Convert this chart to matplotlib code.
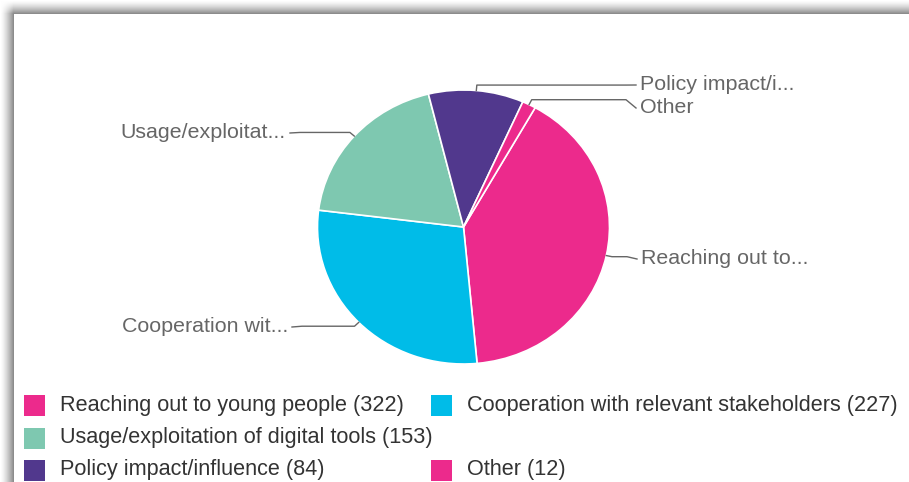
import numpy as np
import matplotlib
matplotlib.use("Agg")
import matplotlib.pyplot as plt
from matplotlib.patches import Rectangle

plt.rcParams['font.family'] = ['Liberation Sans', 'DejaVu Sans']

# Data
categories = ["Reaching out to young people", "Cooperation with relevant stakeholders",
              "Usage/exploitation of digital tools", "Policy impact/influence", "Other"]
short_labels = ["Reaching out to...", "Cooperation wit...", "Usage/exploitat...",
                "Policy impact/i...", "Other"]
counts = [322, 227, 153, 84, 12]
colors = ["#EC2A8C", "#00BCE8", "#7EC8B0", "#51388D", "#EC2A8C"]

W, H = 909, 482
fig = plt.figure(figsize=(W / 100, H / 100), dpi=100)

# grey shadow along top and left edge
bg = fig.add_axes([0, 0, 1, 1])
yy, xx = np.mgrid[0:H, 0:W]
band = 14
fy = np.clip(yy / (band - 1), 0, 1) ** 1.4
fx = np.clip(xx / (band - 1), 0, 1) ** 1.4
f = np.zeros((H, W))
top = (yy < band) & (xx >= band)
left = (xx < band) & (yy >= band)
corner = (xx < band) & (yy < band)
f[top] = fy[top]
f[left] = fx[left]
f[corner] = fx[corner] * fy[corner]
gray = np.where((xx >= band) & (yy >= band), 1.0, 1.0 - 0.45 * f)
bg.imshow(np.dstack([gray] * 3), extent=(0, W, H, 0), aspect='auto', interpolation='nearest')
bg.set_xlim(0, W)
bg.set_ylim(H, 0)
bg.axis('off')

# pie (slightly wider than tall, like the reference)
cx, cy, rx, ry = 463.5, 227, 146, 137
lim = 1.2
ax = fig.add_axes([(cx - lim * rx) / W, (H - cy - lim * ry) / H,
                   2 * lim * rx / W, 2 * lim * ry / H])
ax.patch.set_alpha(0)
wedges, _ = ax.pie(counts, colors=colors, startangle=60.6, counterclock=False, radius=1,
                   wedgeprops=dict(edgecolor='white', linewidth=1.2))
ax.set_aspect('auto')
ax.set_xlim(-lim, lim)
ax.set_ylim(-lim, lim)
ax.axis('off')


def to_data(px, py):
    return (px - cx) / rx, (cy - py) / ry


# label text anchor points in pixels (left/right edge, vertical centre)
label_pos = [(641, 259), (288, 327), (286, 133), (640, 85), (640, 108)]

for w, lab, (px, py) in zip(wedges, short_labels, label_pos):
    mid = np.deg2rad((w.theta1 + w.theta2) / 2)
    ax_, ay_ = np.cos(mid), np.sin(mid)
    ex, ey = 1.04 * ax_, 1.04 * ay_
    right = px > cx
    s = 1 if right else -1
    tx, ty = to_data(px, py)
    hx = tx - s * 14 / rx
    fx2 = tx - s * 4 / rx
    ax.plot([ax_, ex, hx, fx2], [ay_, ey, ey, ty], color="#666666", lw=1, clip_on=False)
    ax.text(tx, ty, lab, ha='left' if right else 'right', va='center',
            fontsize=15.4, color="#666666")

# legend
slots = [(24, 405), (431, 405), (24, 438), (24, 470), (431, 470)]
sq = 21
for (sx, sy), name, n, c in zip(slots, categories, counts, colors):
    fig.patches.append(Rectangle((sx / W, 1 - (sy + sq / 2) / H), sq / W, sq / H,
                                 transform=fig.transFigure, facecolor=c, edgecolor='none'))
    fig.text((sx + 36) / W, 1 - sy / H, f"{name} ({n})", ha='left', va='center',
             fontsize=15.6, color="#333333")

fig.savefig("out.png", dpi=100)
